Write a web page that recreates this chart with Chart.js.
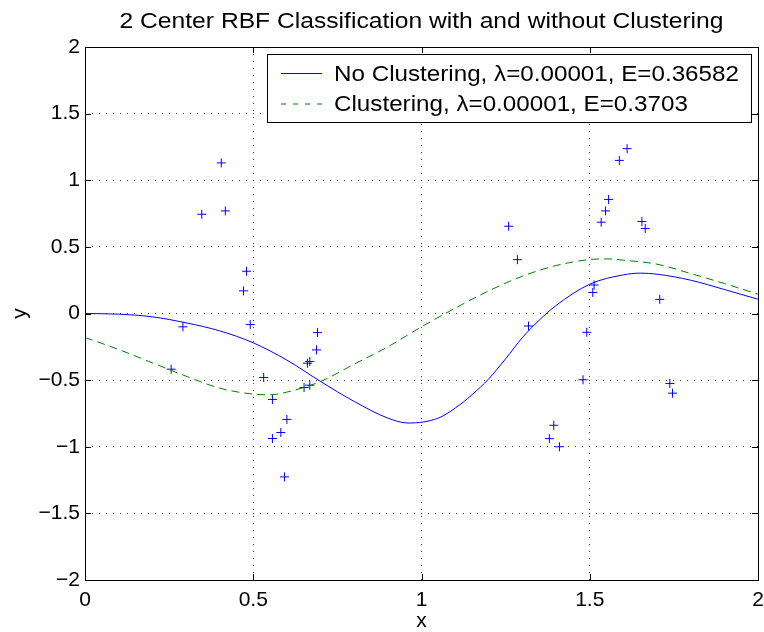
<!DOCTYPE html>
<html>
<head>
<meta charset="utf-8">
<script src="https://cdn.jsdelivr.net/npm/chart.js@4"></script>
<style>
  html, body { margin: 0; padding: 0; background: #fff; }
  #wrap { width: 764px; height: 632px; }
</style>
</head>
<body>
<div id="wrap"><canvas id="myChart" width="764" height="632"></canvas></div>
<script>
const titleText = "2 Center RBF Classification with and without Clustering";
const seriesNames = [
  "No Clustering, \u03bb=0.00001, E=0.36582",
  "Clustering, \u03bb=0.00001, E=0.3703"
];

const xTicks = [0, 0.5, 1, 1.5, 2];
const xTickLabels = ["0", "0.5", "1", "1.5", "2"];
const yTicks = [-2, -1.5, -1, -0.5, 0, 0.5, 1, 1.5, 2];
const yTickLabels = ["\u22122", "\u22121.5", "\u22121", "\u22120.5", "0", "0.5", "1", "1.5", "2"];

// training points (+)
const dataX = [0.405, 0.347, 0.417, 0.480, 0.471, 0.491, 0.291, 0.256, 0.531, 0.557,
  0.600, 0.582, 0.557, 0.593, 0.691, 0.688, 0.668, 0.661, 0.668, 0.651,
  1.611, 1.588, 1.556, 1.547, 1.534, 1.655, 1.665, 1.259, 1.285, 1.513,
  1.509, 1.708, 1.318, 1.491, 1.480, 1.738, 1.746, 1.393, 1.380, 1.410];
const dataY = [1.13, 0.745, 0.77, 0.317, 0.17, -0.083, -0.10, -0.418, -0.48, -0.645,
  -0.795, -0.893, -0.938, -1.226, -0.143, -0.273, -0.36, -0.373, -0.538, -0.555,
  1.237, 1.149, 0.856, 0.770, 0.685, 0.69, 0.638, 0.655, 0.404, 0.214,
  0.158, 0.106, -0.094, -0.141, -0.497, -0.525, -0.598, -0.839, -0.939, -1.0];

// no clustering curve
const noClusterX = [0, 0.1, 0.2, 0.3, 0.4, 0.5, 0.6, 0.7, 0.8, 0.9, 0.96, 1.05, 1.1, 1.15, 1.2,
  1.25, 1.3, 1.35, 1.4, 1.5, 1.6, 1.65, 1.7, 1.8, 1.9, 2.0];
const noClusterY = [0, -0.005, -0.025, -0.07, -0.13, -0.22, -0.35, -0.51, -0.66, -0.785, -0.822,
  -0.785, -0.71, -0.61, -0.49, -0.34, -0.18, -0.05, 0.06, 0.22, 0.29, 0.303, 0.295, 0.25, 0.18, 0.107];

// clustering curve
const clusterX = [0, 0.1, 0.2, 0.3, 0.4, 0.5, 0.55, 0.6, 0.7, 0.8, 0.9, 1.0, 1.1, 1.2,
  1.3, 1.4, 1.5, 1.55, 1.6, 1.7, 1.8, 1.9, 2.0];
const clusterY = [-0.18, -0.27, -0.37, -0.47, -0.56, -0.605, -0.61, -0.59, -0.51, -0.38, -0.25,
  -0.10, 0.04, 0.17, 0.28, 0.36, 0.405, 0.41, 0.40, 0.37, 0.30, 0.225, 0.145];

const FONT = "'Liberation Sans', Arial, Helvetica, sans-serif";
const BLUE = "rgb(0,0,255)";
const GREEN = "rgb(0,128,0)";

function toPoints(xs, ys) {
  return xs.map((x, i) => ({ x: x, y: ys[i] }));
}

// draws the box, inner ticks, legend and title the way matlab does
const frame = {
  id: "frame",
  afterDatasetsDraw(chart) {
    const ctx = chart.ctx;
    const a = chart.chartArea;
    const xs = chart.scales.x;
    const ys = chart.scales.y;
    ctx.save();
    ctx.strokeStyle = "#000";
    ctx.lineWidth = 1;
    ctx.setLineDash([]);
    ctx.beginPath();
    xTicks.forEach((v) => {
      const px = Math.round(xs.getPixelForValue(v)) + 0.5;
      ctx.moveTo(px, a.bottom); ctx.lineTo(px, a.bottom - 6);
      ctx.moveTo(px, a.top); ctx.lineTo(px, a.top + 6);
    });
    yTicks.forEach((v) => {
      const py = Math.round(ys.getPixelForValue(v)) + 0.5;
      ctx.moveTo(a.left, py); ctx.lineTo(a.left + 6, py);
      ctx.moveTo(a.right, py); ctx.lineTo(a.right - 6, py);
    });
    ctx.stroke();
    ctx.strokeRect(Math.round(a.left) + 0.5, Math.round(a.top) + 0.5,
      Math.round(a.right - a.left), Math.round(a.bottom - a.top));

    // legend
    const lx = 267, ly = 54, lw = 484, lh = 68;
    ctx.fillStyle = "#fff";
    ctx.fillRect(lx, ly, lw, lh);
    ctx.strokeRect(lx + 0.5, ly + 0.5, lw, lh);
    const rows = [73.5, 104];
    const bases = [80.5, 111];
    const styles = [{ c: BLUE, d: [] }, { c: GREEN, d: [5, 7] }];
    rows.forEach((ry, i) => {
      ctx.strokeStyle = styles[i].c;
      ctx.setLineDash(styles[i].d);
      ctx.beginPath();
      ctx.moveTo(281, ry); ctx.lineTo(322, ry);
      ctx.stroke();
      ctx.setLineDash([]);
      ctx.save();
      ctx.translate(334, bases[i]);
      ctx.scale(1.1, 1);
      ctx.fillStyle = "#000";
      ctx.font = "22px " + FONT;
      ctx.textBaseline = "alphabetic";
      ctx.textAlign = "left";
      ctx.fillText(seriesNames[i], 0, 0);
      ctx.restore();
    });

    // title
    ctx.save();
    ctx.translate((a.left + a.right) / 2, 27.5);
    ctx.scale(1.12, 1);
    ctx.fillStyle = "#000";
    ctx.font = "22px " + FONT;
    ctx.textAlign = "center";
    ctx.textBaseline = "alphabetic";
    ctx.fillText(titleText, 0, 0);
    ctx.restore();
    ctx.restore();
  }
};

function initChart(target) {
  const data = {
    datasets: [
      {
        type: "line",
        label: seriesNames[0],
        data: toPoints(noClusterX, noClusterY),
        borderColor: BLUE,
        borderWidth: 1,
        pointRadius: 0,
        cubicInterpolationMode: "monotone",
        fill: false,
      },
      {
        type: "line",
        label: seriesNames[1],
        data: toPoints(clusterX, clusterY),
        borderColor: GREEN,
        borderWidth: 1,
        borderDash: [8, 5],
        pointRadius: 0,
        cubicInterpolationMode: "monotone",
        fill: false,
      },
      {
        type: "scatter",
        label: "data",
        data: toPoints(dataX, dataY),
        pointStyle: "cross",
        pointRadius: 4.5,
        borderColor: BLUE,
        backgroundColor: BLUE,
        pointBorderWidth: 1,
      },
    ],
  };

  const config = {
    type: "scatter",
    data: data,
    options: {
      responsive: false,
      animation: false,
      events: [],
      layout: { padding: { top: 47, right: 0, left: 0, bottom: 0 } },
      plugins: {
        legend: { display: false },
        title: { display: false },
        tooltip: { enabled: false },
      },
      scales: {
        x: {
          type: "linear",
          min: 0,
          max: 2,
          afterBuildTicks: (s) => { s.ticks = xTicks.map((v) => ({ value: v })); },
          afterFit: (s) => { s.height = 52; s.paddingRight = 6; },
          ticks: {
            color: "#000",
            padding: 8,
            maxRotation: 0,
            font: { family: FONT, size: 21 },
            callback: (v, i) => xTickLabels[i],
          },
          grid: { color: "rgba(0,0,0,0.75)", lineWidth: 1, drawTicks: false },
          border: { display: false, dash: [1, 6] },
          title: {
            display: true,
            text: "x",
            color: "#000",
            font: { family: FONT, size: 21, lineHeight: 1 },
            padding: { top: 0, bottom: 0 },
          },
        },
        y: {
          type: "linear",
          min: -2,
          max: 2,
          afterBuildTicks: (s) => { s.ticks = yTicks.map((v) => ({ value: v })); },
          afterFit: (s) => { s.width = 85; },
          ticks: {
            color: "#000",
            padding: 5,
            font: { family: FONT, size: 21 },
            callback: (v, i) => yTickLabels[i],
          },
          grid: { color: "rgba(0,0,0,0.75)", lineWidth: 1, drawTicks: false },
          border: { display: false, dash: [1, 6] },
          title: {
            display: true,
            text: "y",
            color: "#000",
            font: { family: FONT, size: 21, lineHeight: 1 },
            padding: { top: 10, bottom: 0 },
          },
        },
      },
    },
    plugins: [frame],
  };

  return new Chart(target, config);
}

function mainEvent() {
  const chartTarget = document.querySelector("#myChart");
  initChart(chartTarget);
}

document.addEventListener("DOMContentLoaded", () => mainEvent());
</script>
</body>
</html>
